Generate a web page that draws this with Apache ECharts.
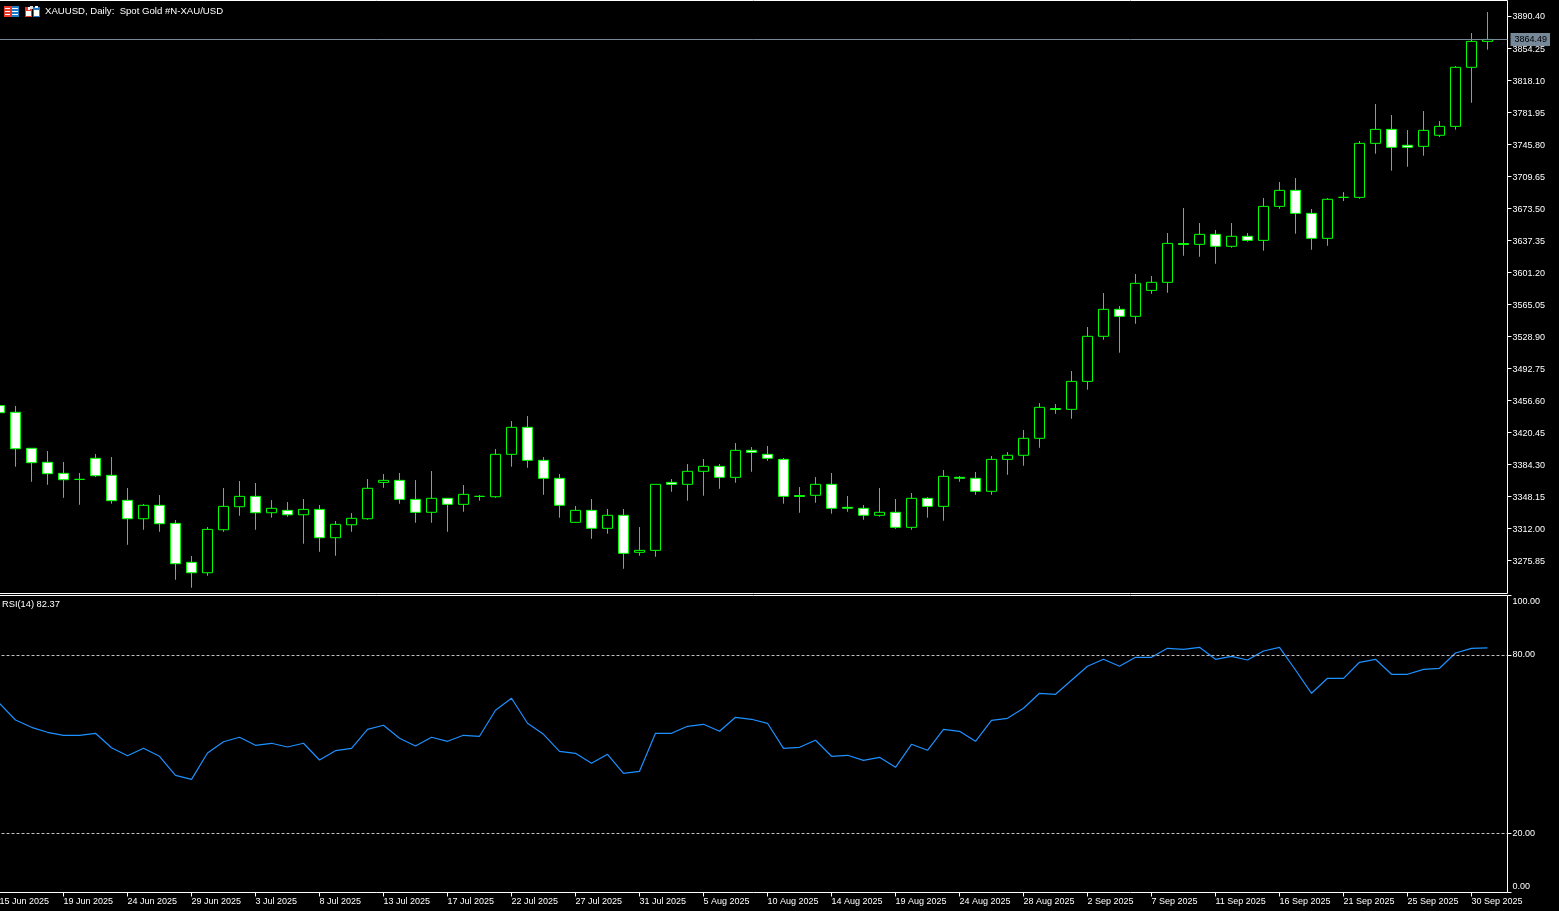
<!DOCTYPE html>
<html>
<head>
<meta charset="utf-8">
<style>html,body{margin:0;padding:0;background:#000}#c{width:1559px;height:911px}</style>
<script src="https://cdn.jsdelivr.net/npm/echarts@6/dist/echarts.min.js"></script>
</head>
<body>
<div id="c"></div>
<script>
const opens = [3450.9,3443.3,3402.6,3386.8,3374.3,3367.5,3391.3,3372.1,3343.8,3323.0,
3338.2,3317.8,3273.8,3262.0,3310.6,3336.6,3348.3,3329.8,3332.5,3327.5,
3333.6,3301.6,3316.2,3323.0,3364.1,3366.4,3344.9,3330.3,3346.1,3339.3,
3348.3,3347.9,3395.8,3426.3,3389.0,3368.7,3319.0,3332.5,3312.2,3326.9,
3285.1,3287.3,3364.1,3361.9,3376.6,3382.2,3369.8,3400.3,3395.8,3390.1,
3349.2,3349.5,3361.9,3335.9,3334.8,3326.9,3330.3,3313.3,3346.1,3337.0,
3369.8,3368.7,3354.0,3390.1,3394.7,3413.9,3447.5,3446.6,3478.2,3529.1,
3559.6,3551.7,3581.0,3590.1,3633.9,3633.0,3644.3,3630.8,3642.1,3637.5,
3675.9,3694.0,3668.0,3639.8,3686.1,3686.1,3747.1,3762.9,3744.9,3743.7,
3756.2,3766.3,3833.0,3862.3];
const closes = [3442.8,3402.1,3386.3,3373.9,3367.1,3367.5,3371.6,3343.4,3323.0,3338.2,
3317.4,3272.2,3262.0,3311.0,3337.0,3348.3,3329.8,3334.8,3327.5,3333.6,
3301.6,3316.7,3323.5,3357.4,3366.4,3344.9,3330.3,3346.1,3339.3,3350.6,
3348.3,3395.8,3426.3,3389.0,3368.7,3338.2,3332.5,3312.2,3326.9,3283.9,
3287.3,3361.9,3361.9,3376.6,3382.2,3369.8,3400.3,3398.0,3391.3,3348.3,
3348.2,3361.9,3334.8,3334.9,3326.9,3330.3,3313.3,3346.1,3337.0,3370.9,
3368.8,3354.0,3390.1,3394.7,3413.9,3448.9,3446.5,3478.2,3529.1,3559.6,
3551.7,3589.0,3590.1,3634.1,3632.9,3644.3,3630.8,3642.1,3637.5,3675.9,
3694.0,3668.0,3639.8,3683.9,3686.1,3747.1,3762.9,3742.6,3742.6,3761.8,
3766.3,3833.0,3862.3,3864.49];
const highs = [3451.5,3450.4,3402.6,3399.5,3387.1,3374.7,3396.1,3392.7,3357.7,3339.6,
3349.8,3321.6,3280.9,3313.6,3357.7,3365.6,3363.4,3344.1,3341.9,3345.3,
3338.5,3320.4,3329.5,3367.9,3373.5,3374.7,3366.7,3376.9,3346.1,3361.1,
3349.8,3401.8,3433.4,3439.0,3392.7,3373.5,3337.4,3345.3,3334.0,3334.0,
3313.6,3361.9,3367.9,3384.8,3390.5,3384.8,3408.5,3404.0,3405.2,3391.6,
3358.8,3370.1,3374.7,3348.7,3338.5,3357.7,3345.3,3352.1,3347.5,3378.0,
3371.3,3375.8,3393.9,3398.4,3423.2,3453.7,3452.6,3489.9,3539.6,3578.0,
3563.3,3599.5,3597.2,3645.8,3674.0,3657.1,3649.2,3657.1,3645.8,3685.3,
3703.4,3707.9,3672.9,3685.3,3692.1,3749.7,3791.5,3779.1,3762.1,3783.6,
3772.3,3834.4,3871.7,3895.4];
const lows = [3442.4,3381.8,3364.8,3361.4,3346.7,3338.8,3370.1,3340.0,3293.6,3310.6,
3308.3,3254.1,3245.1,3258.6,3308.3,3326.4,3310.6,3324.2,3325.3,3294.8,
3285.7,3281.2,3308.3,3321.9,3358.0,3340.0,3318.5,3318.5,3308.3,3330.9,
3343.4,3346.7,3381.8,3380.6,3350.1,3324.2,3318.5,3300.4,3306.1,3266.5,
3281.2,3280.1,3353.5,3343.4,3349.0,3356.9,3363.7,3376.1,3388.5,3340.0,
3329.8,3341.1,3328.7,3330.9,3321.9,3325.3,3311.7,3310.6,3324.2,3320.8,
3364.8,3350.1,3350.1,3372.7,3382.9,3403.2,3441.6,3436.0,3468.8,3525.2,
3510.6,3543.3,3577.2,3578.3,3620.1,3619.0,3611.1,3629.2,3636.0,3625.8,
3673.2,3645.0,3626.9,3631.4,3681.9,3684.5,3735.4,3716.2,3720.7,3733.1,
3754.2,3762.5,3793.0,3852.9];
const rsi = [63.70,58.08,55.62,53.94,52.93,52.93,53.60,48.75,46.06,48.55,
45.86,39.46,38.11,46.97,50.77,52.26,49.56,50.24,48.99,50.24,
44.61,47.74,48.55,54.95,56.30,51.92,49.33,52.26,50.91,52.93,
52.59,61.35,65.39,56.97,53.27,47.54,46.87,43.50,46.53,40.13,
40.81,53.60,53.60,55.96,56.63,54.28,58.99,58.32,56.97,48.55,
48.89,51.25,45.86,46.20,44.51,45.52,42.15,49.90,47.88,54.95,
54.28,50.91,57.98,58.65,62.02,67.07,66.73,71.45,76.16,78.52,
76.16,79.19,79.19,82.22,81.88,82.56,78.52,79.53,78.28,81.31,
82.56,74.92,67.07,72.12,72.12,77.51,78.52,73.47,73.47,75.15,
75.49,80.64,82.22,82.37];
const dateLabels = ['15 Jun 2025','19 Jun 2025','24 Jun 2025','29 Jun 2025','3 Jul 2025','8 Jul 2025',
'13 Jul 2025','17 Jul 2025','22 Jul 2025','27 Jul 2025','31 Jul 2025','5 Aug 2025','10 Aug 2025',
'14 Aug 2025','19 Aug 2025','24 Aug 2025','28 Aug 2025','2 Sep 2025','7 Sep 2025','11 Sep 2025',
'16 Sep 2025','21 Sep 2025','25 Sep 2025','30 Sep 2025'];
const dateBarIdx = dateLabels.map((_, k) => k * 4);
const priceTicks = [3275.85,3312.00,3348.15,3384.30,3420.45,3456.60,3492.75,3528.90,3565.05,3601.20,
3637.35,3673.50,3709.65,3745.80,3781.95,3818.10,3854.25,3890.40];
const rsiTicks = [0,20,80,100];
const bidPrice = 3864.49;
const rsiLevels = [20,80];

const FONT = '"Liberation Sans", Arial, sans-serif';
const FS = 9;
const candleData = opens.map((o, i) => [i, o, closes[i], lows[i], highs[i]]);
const rsiData = rsi.map((v, i) => [i, v]);
const GREEN = '#00ff00';

const xBase = (gridIndex) => ({
  type: 'value', gridIndex, min: -0.5, max: 94.25,
  splitLine: { show: false }, axisLine: { show: false, onZero: false }
});

const chart = echarts.init(document.getElementById('c'), null, { renderer: 'canvas', width: 1559, height: 911 });

function icon(x, fills) {
  return fills.map(f => ({ type: 'rect', silent: true, shape: { x: x + f[0], y: 6 + f[1], width: f[2], height: f[3] }, style: { fill: f[4] } }));
}
const RED = '#e8382c', BLUE = '#1f78c8', W = '#ffffff';
const iconElems = [
  ...icon(4, [[0,0,7,11,RED],[7,0,8,11,BLUE],[1,2,5,1,W],[1,5,5,1,W],[1,8,5,1,W],[8,2,6,1,W],[8,5,6,1,W],[8,8,6,1,W]]),
  ...icon(25, [[0,1,7,10,RED],[8,1,7,10,BLUE],[1,5,5,5,W],[3,1,2,3,W],[9,4,5,6,W],[10,0,3,2,W],[5,0,3,3,'#dddddd']])
];
const richLabel = (padding) => ({ color: '#fff', fontFamily: FONT, fontSize: FS, padding });

chart.setOption({
  animation: false,
  backgroundColor: '#000000',
  title: [
    { text: 'XAUUSD, Daily:  Spot Gold #N-XAU/USD', left: 45, top: 6, padding: 0,
      textStyle: { color: '#fff', fontFamily: FONT, fontSize: 9.6, fontWeight: 'normal' } },
    { text: 'RSI(14) 82.37', left: 2, top: 600, padding: 0,
      textStyle: { color: '#fff', fontFamily: FONT, fontSize: 9.3, fontWeight: 'normal' } }
  ],
  grid: [
    { left: -8.5, top: 0.5, width: 1516, height: 593, show: true, borderColor: '#fff', borderWidth: 1, backgroundColor: '#000', containLabel: false, outerBoundsMode: 'none' },
    { left: -8.5, top: 595.5, width: 1516, height: 297, show: true, borderColor: '#fff', borderWidth: 1, backgroundColor: '#000', containLabel: false, outerBoundsMode: 'none' }
  ],
  xAxis: [
    Object.assign(xBase(0), { axisTick: { show: false }, axisLabel: { show: false } }),
    Object.assign(xBase(1), {
      axisTick: { show: true, customValues: dateBarIdx, length: 4, lineStyle: { color: '#fff', width: 1 } },
      axisLabel: { show: true, customValues: dateBarIdx, color: '#fff', fontFamily: FONT, fontSize: FS, align: 'left', margin: 5,
        hideOverlap: false, formatter: v => dateLabels[Math.round(v / 4)] }
    })
  ],
  yAxis: [
    { type: 'value', gridIndex: 0, position: 'right', min: 3238.57, max: 3908.475, scale: true,
      splitLine: { show: false }, axisLine: { show: false, onZero: false },
      axisTick: { show: true, customValues: priceTicks, length: 4, lineStyle: { color: '#fff', width: 1 } },
      axisLabel: { customValues: priceTicks, color: '#fff', fontFamily: FONT, fontSize: FS, margin: 5, hideOverlap: false,
        formatter: v => (v > 3890 ? '{t|' : '{m|') + v.toFixed(2) + '}',
        rich: { t: richLabel([0, 0, 0, 0]), m: richLabel([2, 0, 0, 0]) } } },
    { type: 'value', gridIndex: 1, position: 'right', min: 0, max: 100,
      splitLine: { show: false }, axisLine: { show: false, onZero: false },
      axisTick: { show: true, customValues: rsiTicks, length: 4, lineStyle: { color: '#fff', width: 1 } },
      axisLabel: { customValues: rsiTicks, color: '#fff', fontFamily: FONT, fontSize: FS, margin: 5, hideOverlap: false,
        formatter: v => v === 100 ? '{hi|100.00}' : (v === 0 ? '{lo|0.00}' : '{mid|' + v.toFixed(2) + '}'),
        rich: { hi: richLabel([2, 0, 0, 0]), lo: richLabel([0, 0, 1, 0]), mid: richLabel([0, 0, 0, 0]) },
        verticalAlignMinLabel: 'bottom', verticalAlignMaxLabel: 'top' } }
  ],
  series: [
    { type: 'candlestick', name: 'XAUUSD', xAxisIndex: 0, yAxisIndex: 0, data: candleData,
      encode: { x: 0, y: [1, 2, 3, 4] }, barWidth: 10, clip: true, silent: true,
      itemStyle: { color: '#000000', color0: '#ffffff', borderColor: GREEN, borderColor0: GREEN, borderColorDoji: GREEN, borderWidth: 1 },
      markLine: { silent: true, symbol: 'none', animation: false,
        lineStyle: { color: '#778899', width: 1, type: 'solid' },
        label: { show: true, position: 'end', distance: 3, color: '#000', backgroundColor: '#778899', fontFamily: FONT, fontSize: FS,
          padding: [2, 3, 2, 4], formatter: () => bidPrice.toFixed(2) },
        data: [{ yAxis: bidPrice }] } },
    { type: 'line', name: 'RSI(14)', xAxisIndex: 1, yAxisIndex: 1, data: rsiData, showSymbol: false, symbol: 'none', silent: true, clip: true,
      lineStyle: { color: '#1e90ff', width: 1.2 },
      markLine: { silent: true, symbol: 'none', animation: false, label: { show: false },
        lineStyle: { color: '#c0c0c0', width: 1, type: [3, 2] },
        data: rsiLevels.map(v => ({ yAxis: v })) } }
  ],
  graphic: iconElems
});
</script>
</body>
</html>
